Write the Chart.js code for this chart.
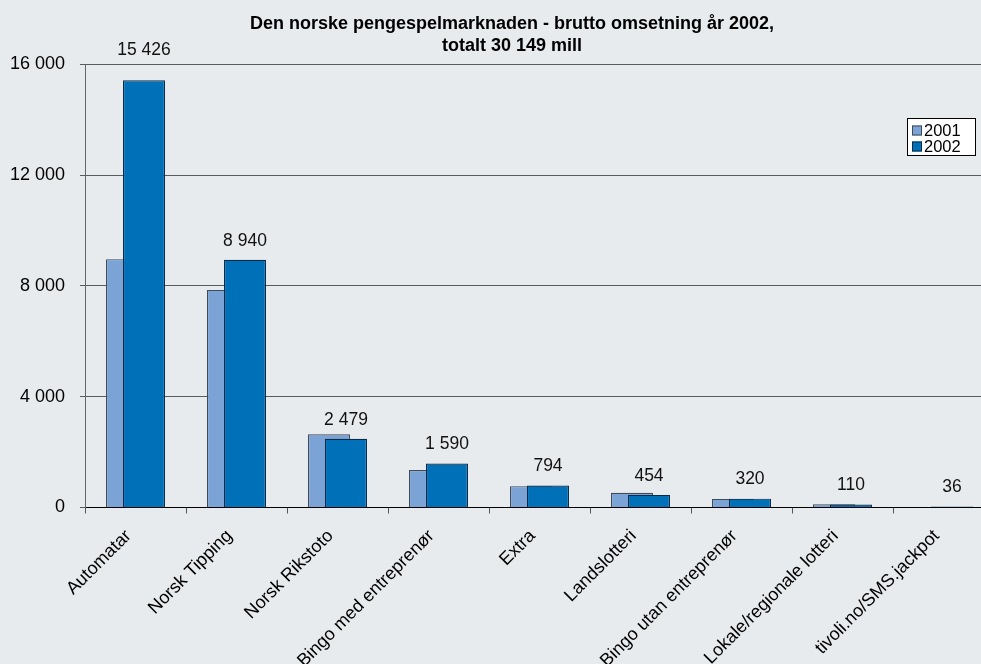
<!DOCTYPE html>
<html>
<head>
<meta charset="utf-8">
<script src="https://cdn.jsdelivr.net/npm/chart.js@4.4.1/dist/chart.umd.min.js"></script>
<style>
  html, body { margin: 0; padding: 0; background: #E8EBEE; overflow: hidden; }
  #wrap { width: 1024px; height: 664px; }
</style>
</head>
<body>
<div id="wrap"><canvas id="c" width="1024" height="664"></canvas></div>
<script>
const categories = [
  "Automatar", "Norsk Tipping", "Norsk Rikstoto", "Bingo med entreprenør",
  "Extra", "Landslotteri", "Bingo utan entreprenør", "Lokale/regionale lotteri",
  "tivoli.no/SMS.jackpot"
];
const values2001 = [8965, 7855, 2645, 1350, 770, 530, 310, 120, 0];
const values2002 = [15426, 8940, 2479, 1590, 794, 454, 320, 110, 36];
const seriesNames = ["2001", "2002"];
const yTicks = [0, 4000, 8000, 12000, 16000];
const titleLines = ["Den norske pengespelmarknaden - brutto omsetning år 2002,", "totalt 30 149 mill"];

const FONT = "'Liberation Sans', Arial, Helvetica, sans-serif";
const fmt = v => String(v).replace(/\B(?=(\d{3})+(?!\d))/g, " ");

const colors = {
  fill2001: "#7BA3D6", border2001: "#3F4B57",
  fill2002: "#0070B8", border2002: "#0B2A48"
};

// Draw datasets in data order so the 2002 bar overlaps the 2001 bar
const drawOrderPlugin = {
  id: "drawOrder",
  beforeDatasetsDraw(chart) {
    const metas = chart.getSortedVisibleDatasetMetas();
    const ctx = chart.ctx;
    ctx.save();
    for (const m of metas) m.controller.draw();
    ctx.restore();
    return false;
  }
};

const labelPlugin = {
  id: "valueLabels",
  afterDraw(chart, args, opts) {
    const ctx = chart.ctx;
    const meta = chart.getDatasetMeta(1);
    const extra = opts.extraOffset || {};
    ctx.save();
    ctx.font = "17.5px " + FONT;
    ctx.fillStyle = "#111";
    ctx.textAlign = "center";
    ctx.textBaseline = "middle";
    meta.data.forEach((bar, i) => {
      ctx.fillText(fmt(values2002[i]), bar.x, bar.y - 19 - (extra[i] || 0));
    });
    ctx.restore();
  }
};

const legendPlugin = {
  id: "boxLegend",
  afterDraw(chart) {
    const ctx = chart.ctx;
    const ds = chart.data.datasets;
    const bx = 907, by = 118, bw = 68, bh = 37;
    ctx.save();
    ctx.fillStyle = "#FFFFFF";
    ctx.strokeStyle = "#000000";
    ctx.lineWidth = 1;
    ctx.fillRect(bx, by, bw, bh);
    ctx.strokeRect(bx + 0.5, by + 0.5, bw, bh);
    ctx.font = "16.5px " + FONT;
    ctx.textBaseline = "middle";
    ctx.textAlign = "left";
    ds.forEach((d, i) => {
      const cy = by + 12.5 + i * 16;
      ctx.fillStyle = d.backgroundColor;
      ctx.fillRect(bx + 5, cy - 5, 10, 10);
      ctx.strokeStyle = d.borderColor;
      ctx.strokeRect(bx + 5.5, cy - 4.5, 9, 9);
      ctx.fillStyle = "#000";
      ctx.fillText(d.label, bx + 17, cy + 1);
    });
    ctx.restore();
  }
};

new Chart(document.getElementById("c"), {
  type: "bar",
  data: {
    labels: categories,
    datasets: [
      { label: seriesNames[0], data: values2001, backgroundColor: colors.fill2001,
        borderColor: colors.border2001, borderWidth: 1.2 },
      { label: seriesNames[1], data: values2002, backgroundColor: colors.fill2002,
        borderColor: colors.border2002, borderWidth: 1.2 }
    ]
  },
  options: {
    responsive: false,
    animation: false,
    devicePixelRatio: 1,
    categoryPercentage: 0.3366,
    barPercentage: 2.47,
    layout: { padding: 0 },
    plugins: {
      legend: { display: false },
      tooltip: { enabled: false },
      valueLabels: { extraOffset: { 0: 11 } },
      title: {
        display: true,
        text: titleLines,
        color: "#000",
        font: { family: FONT, size: 18, weight: "bold", lineHeight: 1.25 },
        padding: { top: 12.5, bottom: 6.8 }
      }
    },
    scales: {
      x: {
        offset: true,
        grid: { display: true, drawOnChartArea: false, drawTicks: true, tickLength: 6,
                offset: true, color: "#555" },
        border: { display: true, color: "#000", width: 1 },
        ticks: {
          minRotation: 45, maxRotation: 45, autoSkip: false, labelOffset: -7,
          color: "#000", font: { family: FONT, size: 18 }, padding: 12
        },
        afterFit(scale) { scale.height = 156.5; }
      },
      y: {
        min: 0, max: 16000,
        afterBuildTicks(scale) { scale.ticks = yTicks.map(v => ({ value: v })); },
        grid: { color: "#5A5A5A", lineWidth: 1, drawTicks: true, tickLength: 5 },
        border: { display: true, color: "#666", width: 1 },
        ticks: {
          color: "#000", font: { family: FONT, size: 18 }, padding: 15,
          callback: v => fmt(v)
        },
        afterFit(scale) { scale.width = 85; }
      },
      yPad: {
        type: "linear", position: "right", display: true,
        grid: { display: false }, border: { display: false },
        ticks: { display: false },
        afterFit(scale) { scale.width = 30; }
      }
    }
  },
  plugins: [drawOrderPlugin, labelPlugin, legendPlugin]
});
</script>
</body>
</html>
